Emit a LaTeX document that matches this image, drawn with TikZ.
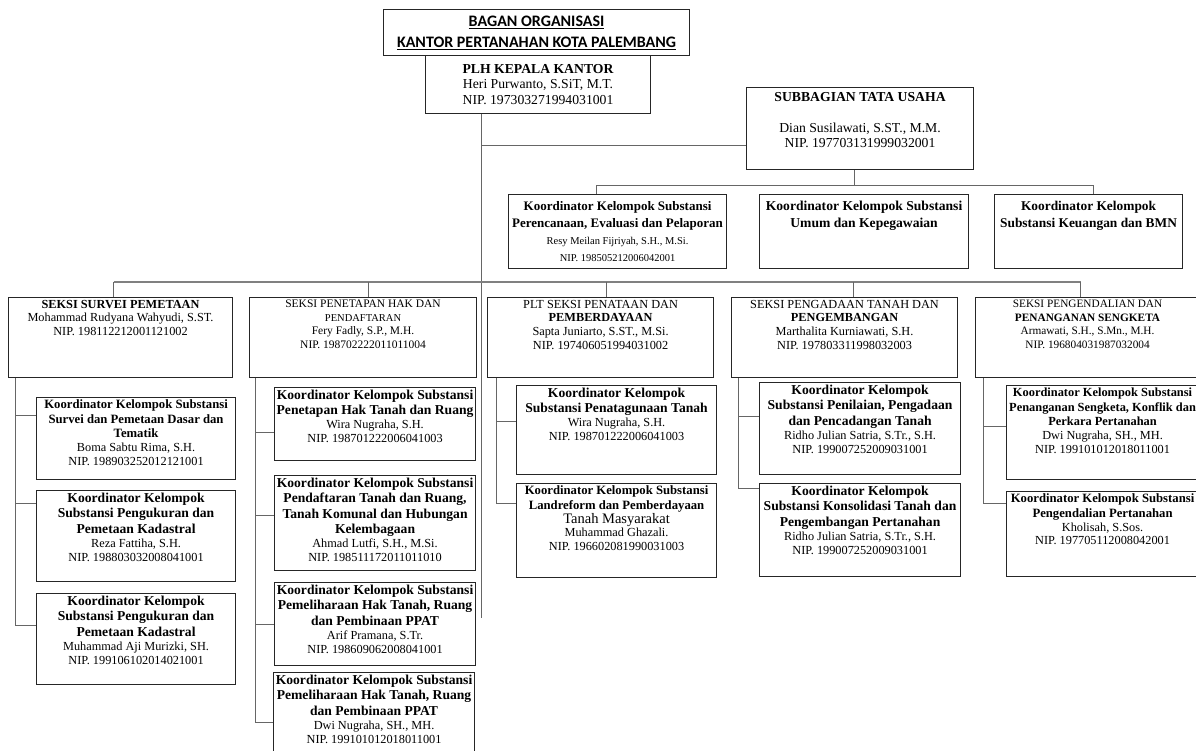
\documentclass[tikz,border=0pt]{standalone}
\usepackage{fontspec}
\setmainfont{Liberation Serif}
\newfontfamily\calfont{Carlito}
\usetikzlibrary{positioning,calc}

\newcommand{\kbs}[1]{{\fontsize{12.7}{14.5}\selectfont\bfseries #1\par}}
\newcommand{\kbl}[1]{{\fontsize{13.6}{15.5}\selectfont\bfseries #1\par}}

\tikzset{
  box/.style={draw=black!85, line width=1.1pt, inner sep=0pt, anchor=north west},
  unit/.style 2 args={box, font=\fontsize{12.3}{13.8}\selectfont,
    execute at begin node={\begin{minipage}[c][#2pt][t]{#1pt}\centering\vspace*{2.5pt}},
    execute at end node={\end{minipage}}},
  cbox/.style={box, align=center},
  link/.style={draw=black!60, line width=0.9pt},
  bar/.style={draw=black!50, line width=1.8pt},
}

\begin{document}
\begin{tikzpicture}[x=1pt, y=-1pt]
\useasboundingbox (0,0) rectangle (1196,751);

% pimpinan
\node[cbox, minimum width=306pt, minimum height=46pt, font={\calfont\fontsize{16}{21}\selectfont\bfseries}] (judul) at (383,9)
  {\underline{BAGAN ORGANISASI}\\ \underline{KANTOR PERTANAHAN KOTA PALEMBANG}};
\node[cbox, minimum width=225pt, minimum height=58pt, font=\fontsize{13.7}{15.5}\selectfont] (kepala) at (425,55)
  {\textbf{PLH KEPALA KANTOR}\\ Heri Purwanto, S.SiT, M.T.\\ NIP. 197303271994031001};
\node[unit={227}{82}, font=\fontsize{13.7}{15.5}\selectfont] (subbag) at (746,87)
  {\vspace*{2pt}\textbf{SUBBAGIAN TATA USAHA}\\[15.5pt] Dian Susilawati, S.ST., M.M.\\ NIP. 197703131999032001};

% koordinator tata usaha
\node[unit={218}{74}, font=\fontsize{10.5}{17}\selectfont] (koord1) at (508,194)
  {\vspace*{4pt}{\fontsize{13}{17}\selectfont\bfseries Koordinator Kelompok Substansi\\ Perencanaan, Evaluasi dan Pelaporan\par}
   Resy Meilan Fijriyah, S.H., M.Si.\\ NIP. 198505212006042001};
\node[unit={209}{74}, font=\fontsize{13.6}{17}\selectfont\bfseries] (koord2) at (759,194)
  {\vspace*{4pt}Koordinator Kelompok Substansi\\ Umum dan Kepegawaian};
\node[unit={188}{74}, font=\fontsize{13.4}{17}\selectfont\bfseries] (koord3) at (994,194)
  {\vspace*{4pt}Koordinator Kelompok\\ Substansi Keuangan dan BMN};

% seksi
\node[unit={224}{80}] (survei) at (8,297)
  {\textbf{SEKSI SURVEI PEMETAAN}\\ Mohammad Rudyana Wahyudi, S.ST.\\ NIP. 198112212001121002};
\node[unit={227}{80}, font=\fontsize{11.5}{13.5}\selectfont] (penetapan) at (249,297)
  {SEKSI PENETAPAN HAK DAN\\ {\fontsize{10.5}{13.5}\selectfont PENDAFTARAN}\\ Fery Fadly, S.P., M.H.\\ NIP. 198702222011011004};
\node[unit={226}{80}] (plt) at (487,297)
  {PLT SEKSI PENATAAN DAN\\ \textbf{PEMBERDAYAAN}\\ Sapta Juniarto, S.ST., M.Si.\\ NIP. 197406051994031002};
\node[unit={226}{80}] (pengadaan) at (731,297)
  {SEKSI PENGADAAN TANAH DAN\\ \textbf{PENGEMBANGAN}\\ Marthalita Kurniawati, S.H.\\ NIP. 197803311998032003};
\node[unit={224}{80}, font=\fontsize{11.3}{13.5}\selectfont] (pengendalian) at (975,297)
  {SEKSI PENGENDALIAN DAN\\ \textbf{PENANGANAN SENGKETA}\\ Armawati, S.H., S.Mn., M.H.\\ NIP. 196804031987032004};

% koordinator seksi survei
\node[unit={199}{82}] (s1a) at (36,397)
  {\kbs{Koordinator Kelompok Substansi\\ Survei dan Pemetaan Dasar dan\\ Tematik}
   Boma Sabtu Rima, S.H.\\ NIP. 198903252012121001};
\node[unit={199}{91}] (s1b) at (36,490)
  {\kbl{Koordinator Kelompok\\ Substansi Pengukuran dan\\ Pemetaan Kadastral}
   Reza Fattiha, S.H.\\ NIP. 198803032008041001};
\node[unit={199}{91}] (s1c) at (36,593)
  {\kbl{Koordinator Kelompok\\ Substansi Pengukuran dan\\ Pemetaan Kadastral}
   Muhammad Aji Murizki, SH.\\ NIP. 199106102014021001};

% koordinator seksi penetapan
\node[unit={201}{73}] (s2a) at (274,387)
  {\kbl{Koordinator Kelompok Substansi\\ Penetapan Hak Tanah dan Ruang}
   Wira Nugraha, S.H.\\ NIP. 198701222006041003};
\node[unit={201}{95}] (s2b) at (274,475)
  {\kbl{Koordinator Kelompok Substansi\\ Pendaftaran Tanah dan Ruang,\\ Tanah Komunal dan Hubungan\\ Kelembagaan}
   Ahmad Lutfi, S.H., M.Si.\\ NIP. 198511172011011010};
\node[unit={201}{83}] (s2c) at (274,582)
  {\kbl{Koordinator Kelompok Substansi\\ Pemeliharaan Hak Tanah, Ruang\\ dan Pembinaan PPAT}
   Arif Pramana, S.Tr.\\ NIP. 198609062008041001};
\node[unit={201}{86}] (s2d) at (273,672)
  {\kbl{Koordinator Kelompok Substansi\\ Pemeliharaan Hak Tanah, Ruang\\ dan Pembinaan PPAT}
   Dwi Nugraha, SH., MH.\\ NIP. 199101012018011001};

% koordinator seksi penataan
\node[unit={200}{89}] (s3a) at (516,385)
  {\kbl{Koordinator Kelompok\\ Substansi Penatagunaan Tanah}
   Wira Nugraha, S.H.\\ NIP. 198701222006041003};
\node[unit={200}{94}] (s3b) at (516,483)
  {\kbs{Koordinator Kelompok Substansi\\ Landreform dan Pemberdayaan}
   {\fontsize{14.5}{14}\selectfont Tanah Masyarakat}\\ Muhammad Ghazali.\\ NIP. 196602081990031003};

% koordinator seksi pengadaan
\node[unit={201}{92}] (s4a) at (759,382)
  {\kbl{Koordinator Kelompok\\ Substansi Penilaian, Pengadaan\\ dan Pencadangan Tanah}
   Ridho Julian Satria, S.Tr., S.H.\\ NIP. 199007252009031001};
\node[unit={201}{93}] (s4b) at (759,483)
  {\kbl{Koordinator Kelompok\\ Substansi Konsolidasi Tanah dan\\ Pengembangan Pertanahan}
   Ridho Julian Satria, S.Tr., S.H.\\ NIP. 199007252009031001};

% koordinator seksi pengendalian
\node[unit={192}{94}] (s5a) at (1006,385)
  {{\fontsize{12.4}{14.5}\selectfont\bfseries Koordinator Kelompok Substansi\\ Penanganan Sengketa, Konflik dan\\ Perkara Pertanahan\par}
   Dwi Nugraha, SH., MH.\\ NIP. 199101012018011001};
\node[unit={192}{85}] (s5b) at (1006,491)
  {\kbs{Koordinator Kelompok Substansi\\ Pengendalian Pertanahan}
   Kholisah, S.Sos.\\ NIP. 197705112008042001};

% garis
\coordinate (trunk) at ([xshift=56pt]kepala.south west);
\coordinate (trunkend) at (481,618);
\draw[link] (trunk) -- (trunkend);
\draw[link] ([yshift=-58pt]subbag.north west) -| (trunk);
\draw[link] ([xshift=-6pt]subbag.south) -- ([xshift=-6pt,yshift=-16pt]subbag.south);
\draw[link] ([xshift=-21pt]koord1.north) |- ([xshift=5pt,yshift=9pt]koord3.north) -- ([xshift=5pt]koord3.north);

\draw[bar] ([xshift=-7pt,yshift=15pt]survei.north) -- ([xshift=-7pt,yshift=15pt]pengendalian.north);
\foreach \s/\dx in {survei/-7, penetapan/5, plt/6, pengadaan/9, pengendalian/-7}
  \draw[link] ([xshift=\dx pt]\s.north) -- ([xshift=\dx pt,yshift=15pt]\s.north);

\coordinate (sp1) at ([xshift=7pt]survei.south west);
\draw[link] (sp1) |- ([yshift=-18pt]s1a.north west);
\draw[link] (sp1) |- ([yshift=-13pt]s1b.north west);
\draw[link] (sp1) |- ([yshift=-32pt]s1c.north west);

\coordinate (sp2) at ([xshift=6pt]penetapan.south west);
\draw[link] (sp2) |- ([yshift=-45pt]s2a.north west);
\draw[link] (sp2) |- ([yshift=-40pt]s2b.north west);
\draw[link] (sp2) |- ([yshift=-42pt]s2c.north west);
\draw[link] (sp2) |- ([yshift=-50pt]s2d.north west);

\coordinate (sp3) at ([xshift=9pt]plt.south west);
\draw[link] (sp3) |- ([yshift=-36pt]s3a.north west);
\draw[link] (sp3) |- ([yshift=-20pt]s3b.north west);

\coordinate (sp4) at ([xshift=7pt]pengadaan.south west);
\draw[link] (sp4) |- ([yshift=-34pt]s4a.north west);
\draw[link] (sp4) |- ([yshift=-5pt]s4b.north west);

\coordinate (sp5) at ([xshift=8pt]pengendalian.south west);
\draw[link] (sp5) |- ([yshift=-41pt]s5a.north west);
\draw[link] (sp5) |- ([yshift=-12pt]s5b.north west);
\end{tikzpicture}
\end{document}
